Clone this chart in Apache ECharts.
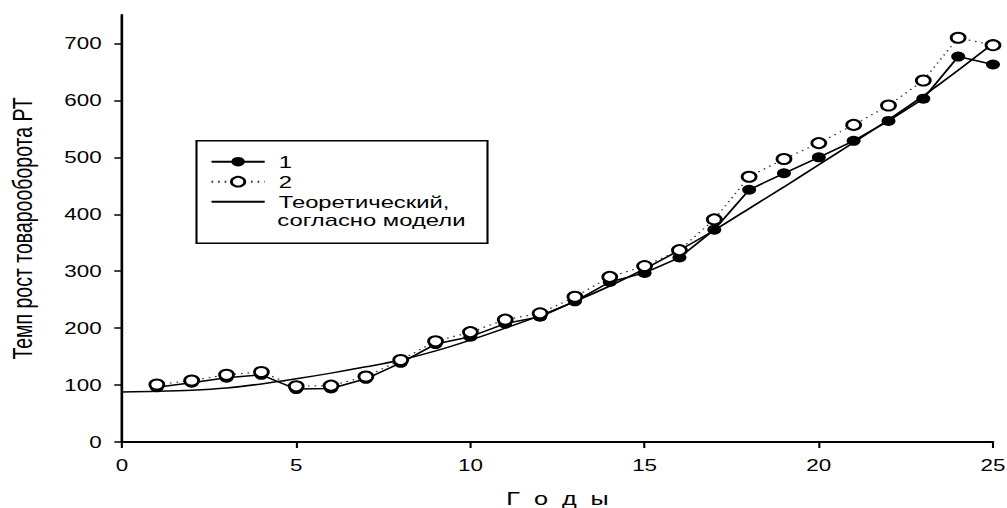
<!DOCTYPE html>
<html><head><meta charset="utf-8">
<script src="https://cdn.jsdelivr.net/npm/echarts@6/dist/echarts.min.js"></script>
<style>
html,body{margin:0;padding:0;background:#fff;overflow:hidden;width:1007px;height:508px}
#wrap{width:1007px;height:508px;overflow:hidden;position:relative}
#chart{position:absolute;left:0;top:0;width:719px;height:508px;transform-origin:0 0;transform:scaleX(1.40056)}
</style>
</head><body><div id="wrap"><div id="chart"></div></div>
<script>
// ---- data ----
const years = [1,2,3,4,5,6,7,8,9,10,11,12,13,14,15,16,17,18,19,20,21,22,23,24,25];
const series1 = [96,104,113,118,93,94,111,139,172,185,208,220,247,281,297,324,373,443,472,500,529,564,603,677,663];
const series2 = [101,108,118,123,98,99,115,144,177,193,215,226,255,290,309,337,391,466,497,525,557,591,635,710,697];
const theoYears = [0,1,2,3,4,5,6,7,8,9,10,11,12,13,14,15,16,17,18,19,20,21,22,23,24,25];
const theoValues = [88,89,91,95,102,111,121,132,144,160,179,200,222,247,274,304,337,372,410,448,487,526,566,608,653,700];
const yTickValues = [0,100,200,300,400,500,600,700];
const seriesNames = ['1','2','Теоретический,'];
const legendSecondLine = 'согласно модели';
const xAxisTitle = 'Г  о  д  ы';
const yAxisTitle = 'Темп рост товарооборота РТ';

const S = 1.40056; // horizontal stretch of the reference image
const FONT = 'Liberation Sans, Arial, sans-serif';
const pair = (xs, ys) => xs.map((x, i) => [x, ys[i]]);

const chart = echarts.init(document.getElementById('chart'), null, {renderer: 'svg'});
chart.setOption({
  animation: false,
  backgroundColor: '#fff',
  textStyle: {fontFamily: FONT, color: '#000'},
  grid: {left: 122 / S, right: 14 / S, top: 15, bottom: 66, containLabel: false, outerBoundsMode: 'none'},
  xAxis: {
    type: 'value', min: 0, max: 25, interval: 5,
    name: xAxisTitle, nameLocation: 'middle', nameGap: 48,
    nameTextStyle: {fontSize: 18, color: '#000', fontFamily: FONT},
    axisLine: {show: true, onZero: false, lineStyle: {color: '#000', width: 1.8}},
    axisTick: {show: true, inside: false, length: 6, lineStyle: {color: '#000', width: 1.5}},
    axisLabel: {fontSize: 16, color: '#000', margin: 15, fontFamily: FONT},
    splitLine: {show: false}
  },
  yAxis: {
    type: 'value', min: 0, max: 750,
    name: yAxisTitle, nameLocation: 'middle', nameGap: 61, nameRotate: 90,
    nameTextStyle: {fontSize: 19.5, color: '#000', fontFamily: FONT},
    axisLine: {show: true, onZero: false, lineStyle: {color: '#000', width: 1.9}},
    axisTick: {show: true, inside: false, length: 5.5, customValues: yTickValues, lineStyle: {color: '#000', width: 1.5}},
    axisLabel: {fontSize: 16, color: '#000', margin: 14.5, customValues: yTickValues, fontFamily: FONT},
    splitLine: {show: false}
  },
  legend: {
    show: true, orient: 'vertical', left: 150, top: 152.7, padding: 0,
    itemWidth: 38, itemHeight: 12, itemGap: 2, selectedMode: false,
    data: seriesNames,
    textStyle: {fontSize: 17, color: '#000', lineHeight: 18, padding: [0, 0, 0, 5], fontFamily: FONT}
  },
  graphic: [
    {type: 'rect', left: 193 / S, top: 138.3, z: 100, silent: true,
     shape: {width: (484 - 193) / S, height: 102.4},
     style: {fill: 'none', stroke: '#000', lineWidth: 1.5}},
    {type: 'text', left: 198, top: 211, z: 100, silent: true,
     style: {text: legendSecondLine, fontSize: 17, fill: '#000', font: '17px ' + FONT}}
  ],
  series: [
    {
      name: seriesNames[0], type: 'line', data: pair(years, series1), z: 3,
      symbol: 'circle', symbolSize: 10, showSymbol: true,
      lineStyle: {color: '#000', width: 1.5, type: 'solid'},
      itemStyle: {color: '#000', borderColor: '#000', borderWidth: 0},
      emphasis: {disabled: true}
    },
    {
      name: seriesNames[1], type: 'line', data: pair(years, series2), z: 4,
      symbol: 'emptyCircle', symbolSize: 10, showSymbol: true,
      lineStyle: {color: '#333', width: 1.2, type: [1.2, 3.5]},
      itemStyle: {color: '#000', borderColor: '#000', borderWidth: 2},
      emphasis: {disabled: true}
    },
    {
      name: seriesNames[2], type: 'line', data: pair(theoYears, theoValues), z: 2,
      symbol: 'none', smooth: 0.3,
      lineStyle: {color: '#000', width: 1.5, type: 'solid'},
      itemStyle: {color: 'rgba(0,0,0,0)'},
      emphasis: {disabled: true}
    }
  ]
});
</script>
</body></html>
